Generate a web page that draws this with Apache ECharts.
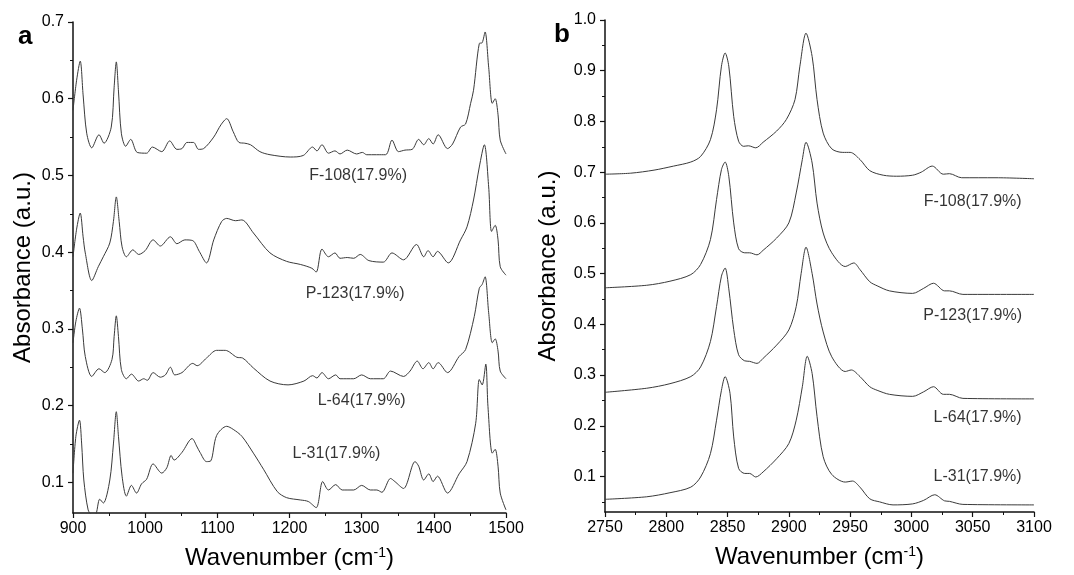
<!DOCTYPE html>
<html>
<head>
<meta charset="utf-8">
<script src="https://cdn.jsdelivr.net/npm/echarts@6/dist/echarts.min.js"></script>
<style>
html,body{margin:0;padding:0;background:#fff;}
#chart{width:1074px;height:575px;}
</style>
</head>
<body>
<div id="chart"></div>
<script>
// ---------- Panel a data (wavenumber, absorbance) ----------
const aF108 = [[900,0.585],[905,0.624],[910,0.649],[914,0.605],[919,0.555],[926,0.536],[936,0.553],[943,0.542],[953,0.563],[957,0.615],[960,0.648],[963,0.610],[967,0.555],[973,0.538],[980,0.547],[989,0.530],[1002,0.529],[1010,0.537],[1023,0.531],[1034,0.545],[1044,0.534],[1051,0.535],[1058,0.543],[1067,0.543],[1074,0.534],[1081,0.535],[1095,0.550],[1105,0.566],[1113,0.574],[1122,0.557],[1130,0.543],[1138,0.542],[1146,0.540],[1159,0.531],[1173,0.527],[1201,0.524],[1219,0.526],[1232,0.537],[1238,0.532],[1245,0.540],[1254,0.529],[1263,0.532],[1270,0.528],[1280,0.533],[1293,0.528],[1301,0.530],[1307,0.527],[1333,0.527],[1342,0.546],[1351,0.531],[1360,0.533],[1370,0.534],[1379,0.547],[1386,0.540],[1393,0.548],[1399,0.541],[1406,0.553],[1419,0.535],[1426,0.541],[1437,0.563],[1444,0.567],[1451,0.594],[1455,0.611],[1463,0.672],[1467,0.673],[1471,0.687],[1476,0.641],[1481,0.594],[1485,0.600],[1489,0.579],[1492,0.546],[1500,0.528]];
const aP123 = [[900,0.394],[905,0.430],[910,0.451],[914,0.420],[917,0.399],[926,0.363],[935,0.381],[942,0.394],[951,0.412],[956,0.440],[960,0.472],[964,0.440],[968,0.407],[974,0.394],[983,0.403],[991,0.397],[1000,0.402],[1011,0.416],[1021,0.408],[1035,0.420],[1044,0.411],[1055,0.416],[1066,0.415],[1075,0.401],[1085,0.386],[1095,0.416],[1106,0.440],[1113,0.444],[1125,0.441],[1134,0.442],[1150,0.425],[1173,0.399],[1196,0.388],[1215,0.384],[1231,0.379],[1237,0.374],[1245,0.404],[1254,0.394],[1263,0.399],[1270,0.392],[1280,0.393],[1289,0.392],[1298,0.397],[1310,0.389],[1330,0.387],[1342,0.399],[1358,0.390],[1376,0.410],[1386,0.394],[1392,0.402],[1399,0.394],[1405,0.401],[1420,0.386],[1437,0.416],[1446,0.433],[1455,0.468],[1463,0.511],[1470,0.540],[1476,0.485],[1480,0.427],[1485,0.435],[1489,0.416],[1492,0.381],[1500,0.370]];
const aL64 = [[900,0.282],[904,0.310],[909,0.327],[913,0.300],[917,0.264],[926,0.238],[936,0.248],[944,0.243],[954,0.260],[957,0.290],[960,0.317],[963,0.290],[967,0.247],[974,0.235],[981,0.241],[991,0.232],[998,0.235],[1003,0.233],[1011,0.243],[1021,0.237],[1028,0.240],[1035,0.250],[1041,0.240],[1051,0.243],[1066,0.255],[1072,0.252],[1085,0.262],[1099,0.272],[1111,0.272],[1127,0.263],[1135,0.262],[1150,0.249],[1173,0.232],[1198,0.227],[1220,0.232],[1232,0.239],[1238,0.236],[1245,0.243],[1254,0.235],[1264,0.240],[1270,0.235],[1289,0.235],[1300,0.240],[1312,0.235],[1330,0.235],[1340,0.245],[1358,0.238],[1367,0.245],[1377,0.258],[1385,0.248],[1393,0.256],[1399,0.248],[1406,0.256],[1419,0.243],[1435,0.264],[1444,0.273],[1456,0.316],[1463,0.353],[1467,0.358],[1471,0.368],[1476,0.321],[1481,0.282],[1485,0.287],[1489,0.271],[1492,0.245],[1500,0.235]];
const aL31 = [[900,0.112],[904,0.160],[909,0.181],[912,0.150],[915,0.103],[921,0.064],[926,0.058],[931,0.058],[937,0.078],[942,0.073],[951,0.103],[956,0.150],[960,0.192],[963,0.160],[968,0.108],[974,0.082],[981,0.096],[988,0.086],[995,0.098],[1002,0.104],[1011,0.124],[1023,0.112],[1030,0.119],[1036,0.135],[1040,0.129],[1051,0.139],[1065,0.157],[1072,0.146],[1076,0.139],[1085,0.127],[1091,0.128],[1099,0.161],[1113,0.173],[1122,0.169],[1134,0.160],[1150,0.138],[1164,0.117],[1183,0.088],[1196,0.080],[1215,0.077],[1226,0.075],[1237,0.067],[1246,0.101],[1254,0.090],[1264,0.097],[1273,0.090],[1289,0.090],[1300,0.096],[1312,0.090],[1321,0.090],[1328,0.087],[1340,0.105],[1346,0.101],[1358,0.092],[1374,0.127],[1379,0.121],[1386,0.103],[1393,0.111],[1399,0.101],[1405,0.108],[1419,0.086],[1435,0.111],[1446,0.127],[1458,0.177],[1463,0.234],[1467,0.227],[1472,0.254],[1475,0.199],[1481,0.138],[1485,0.143],[1489,0.121],[1492,0.086],[1500,0.064]];

// ---------- Panel b data ----------
const bF108 = [[2750,0.696],[2771,0.698],[2790,0.704],[2806,0.712],[2820,0.720],[2828,0.731],[2836,0.764],[2841,0.823],[2845,0.909],[2848,0.935],[2851,0.909],[2855,0.810],[2859,0.761],[2863,0.751],[2867,0.752],[2873,0.748],[2879,0.759],[2890,0.781],[2898,0.804],[2905,0.843],[2909,0.909],[2914,0.974],[2919,0.928],[2923,0.843],[2928,0.777],[2935,0.746],[2944,0.739],[2950,0.739],[2958,0.725],[2966,0.703],[2977,0.694],[2988,0.692],[3001,0.694],[3008,0.700],[3017,0.712],[3026,0.696],[3031,0.697],[3041,0.689],[3069,0.689],[3100,0.687]];
const bP123 = [[2750,0.472],[2784,0.477],[2803,0.485],[2820,0.498],[2828,0.518],[2836,0.567],[2841,0.646],[2845,0.705],[2848,0.720],[2851,0.692],[2855,0.600],[2859,0.549],[2864,0.541],[2868,0.541],[2874,0.537],[2879,0.546],[2890,0.570],[2900,0.600],[2906,0.659],[2911,0.725],[2914,0.759],[2919,0.718],[2923,0.639],[2928,0.580],[2935,0.541],[2946,0.514],[2953,0.521],[2958,0.508],[2966,0.484],[2972,0.476],[2982,0.466],[3001,0.461],[3010,0.471],[3018,0.481],[3027,0.466],[3031,0.466],[3042,0.459],[3100,0.459]];
const bL64 = [[2750,0.266],[2784,0.274],[2803,0.283],[2820,0.297],[2828,0.316],[2836,0.366],[2841,0.435],[2845,0.495],[2848,0.511],[2851,0.470],[2855,0.390],[2859,0.340],[2864,0.328],[2868,0.327],[2874,0.323],[2879,0.333],[2890,0.359],[2900,0.389],[2906,0.435],[2910,0.500],[2914,0.552],[2919,0.500],[2923,0.440],[2928,0.385],[2935,0.336],[2946,0.307],[2951,0.310],[2958,0.297],[2966,0.277],[2972,0.270],[2982,0.262],[3001,0.258],[3010,0.267],[3018,0.277],[3026,0.262],[3031,0.262],[3042,0.254],[3100,0.253]];
const bL31 = [[2750,0.055],[2784,0.060],[2803,0.068],[2820,0.079],[2828,0.099],[2836,0.145],[2841,0.211],[2845,0.270],[2848,0.297],[2852,0.264],[2855,0.178],[2859,0.116],[2864,0.106],[2868,0.106],[2873,0.099],[2879,0.109],[2890,0.135],[2900,0.165],[2906,0.211],[2911,0.277],[2915,0.337],[2919,0.303],[2923,0.218],[2928,0.139],[2935,0.104],[2946,0.089],[2952,0.091],[2958,0.079],[2966,0.056],[2974,0.050],[2985,0.044],[3001,0.046],[3010,0.053],[3019,0.064],[3027,0.052],[3031,0.051],[3042,0.045],[3100,0.044]];

// ---------- Annotations (data coordinates) ----------
const labelsA = [[1295,0.500,'F-108(17.9%)'],[1291,0.346,'P-123(17.9%)'],[1300,0.207,'L-64(17.9%)'],[1265,0.138,'L-31(17.9%)']];
const labelsB = [[3050,0.642,'F-108(17.9%)'],[3050,0.418,'P-123(17.9%)'],[3054,0.217,'L-64(17.9%)'],[3054,0.100,'L-31(17.9%)']];

// ---------- Tick values ----------
const aYMajor = [0.1,0.2,0.3,0.4,0.5,0.6,0.7];
const aYMinor = [0.15,0.25,0.35,0.45,0.55,0.65];
const bYMajor = [0.1,0.2,0.3,0.4,0.5,0.6,0.7,0.8,0.9,1.0];
const bYMinor = [0.05,0.15,0.25,0.35,0.45,0.55,0.65,0.75,0.85,0.95];

const FONT = 'Liberation Sans, Arial, sans-serif';
const AX = '#111';
const LINE = '#3a3a3a';

function xAxisCfg(gi, min, max, interval) {
  return {
    type: 'value', gridIndex: gi, min: min, max: max, interval: interval,
    name: 'Wavenumber (cm{sup|-1})', nameLocation: 'middle', nameGap: 33,
    nameTextStyle: { fontFamily: FONT, fontSize: 24, color: '#000',
      rich: { sup: { fontFamily: FONT, fontSize: 14, color: '#000', verticalAlign: 'top' } } },
    axisLine: { show: true, onZero: false, lineStyle: { color: AX, width: 1.5 } },
    axisTick: { show: true, length: 5, lineStyle: { color: AX, width: 1.2 } },
    minorTick: { show: true, splitNumber: 2, length: 3, lineStyle: { color: AX, width: 1 } },
    splitLine: { show: false },
    axisLabel: { fontFamily: FONT, fontSize: 16, color: '#000', margin: 8, formatter: v => String(v) }
  };
}
function yAxisMajor(gi, min, max, vals, gap) {
  return {
    type: 'value', gridIndex: gi, min: min, max: max, position: 'left',
    name: 'Absorbance (a.u.)', nameLocation: 'middle', nameGap: gap,
    nameTextStyle: { fontFamily: FONT, fontSize: 24, color: '#000' },
    axisLine: { show: true, onZero: false, lineStyle: { color: AX, width: 1.5 } },
    axisTick: { show: true, length: 5, customValues: vals, lineStyle: { color: AX, width: 1.2 } },
    splitLine: { show: false },
    axisLabel: { fontFamily: FONT, fontSize: 16, color: '#000', margin: 9, customValues: vals,
      formatter: v => v.toFixed(1) }
  };
}
function yAxisMinor(gi, min, max, vals) {
  return {
    type: 'value', gridIndex: gi, min: min, max: max, position: 'left', offset: 0,
    axisLine: { show: false },
    axisTick: { show: true, length: 3, customValues: vals, lineStyle: { color: AX, width: 1 } },
    splitLine: { show: false },
    axisLabel: { show: false, customValues: vals }
  };
}
function lineSeries(data, xi, yi) {
  return { type: 'line', xAxisIndex: xi, yAxisIndex: yi, data: data, showSymbol: false,
    smooth: 0.3, lineStyle: { color: LINE, width: 1 }, silent: true, animation: false };
}
function labelSeries(data, xi, yi) {
  return { type: 'scatter', xAxisIndex: xi, yAxisIndex: yi, data: data, symbolSize: 0,
    silent: true, animation: false,
    label: { show: true, position: 'inside', formatter: p => p.data[2],
      fontFamily: FONT, fontSize: 16, color: '#000' } };
}

const chart = echarts.init(document.getElementById('chart'), null, { renderer: 'canvas' });
chart.setOption({
  backgroundColor: '#fff',
  animation: false,
  grid: [
    { left: 73, right: 568, top: 22, bottom: 62 },
    { left: 605, right: 40, top: 20, bottom: 63 }
  ],
  xAxis: [ xAxisCfg(0, 900, 1500, 100), xAxisCfg(1, 2750, 3100, 50) ],
  yAxis: [
    yAxisMajor(0, 0.06, 0.7, aYMajor, 38),
    yAxisMinor(0, 0.06, 0.7, aYMinor),
    yAxisMajor(1, 0.03, 1.0, bYMajor, 45),
    yAxisMinor(1, 0.03, 1.0, bYMinor)
  ],
  graphic: [
    { type: 'text', left: 18, top: 24, style: { text: 'a', fontFamily: FONT, fontSize: 26, fontWeight: 'bold', fill: '#000' } },
    { type: 'text', left: 554, top: 22, style: { text: 'b', fontFamily: FONT, fontSize: 26, fontWeight: 'bold', fill: '#000' } }
  ],
  series: [
    lineSeries(aF108, 0, 0), lineSeries(aP123, 0, 0), lineSeries(aL64, 0, 0), lineSeries(aL31, 0, 0),
    labelSeries(labelsA, 0, 0),
    lineSeries(bF108, 1, 2), lineSeries(bP123, 1, 2), lineSeries(bL64, 1, 2), lineSeries(bL31, 1, 2),
    labelSeries(labelsB, 1, 2)
  ]
});
</script>
</body>
</html>
